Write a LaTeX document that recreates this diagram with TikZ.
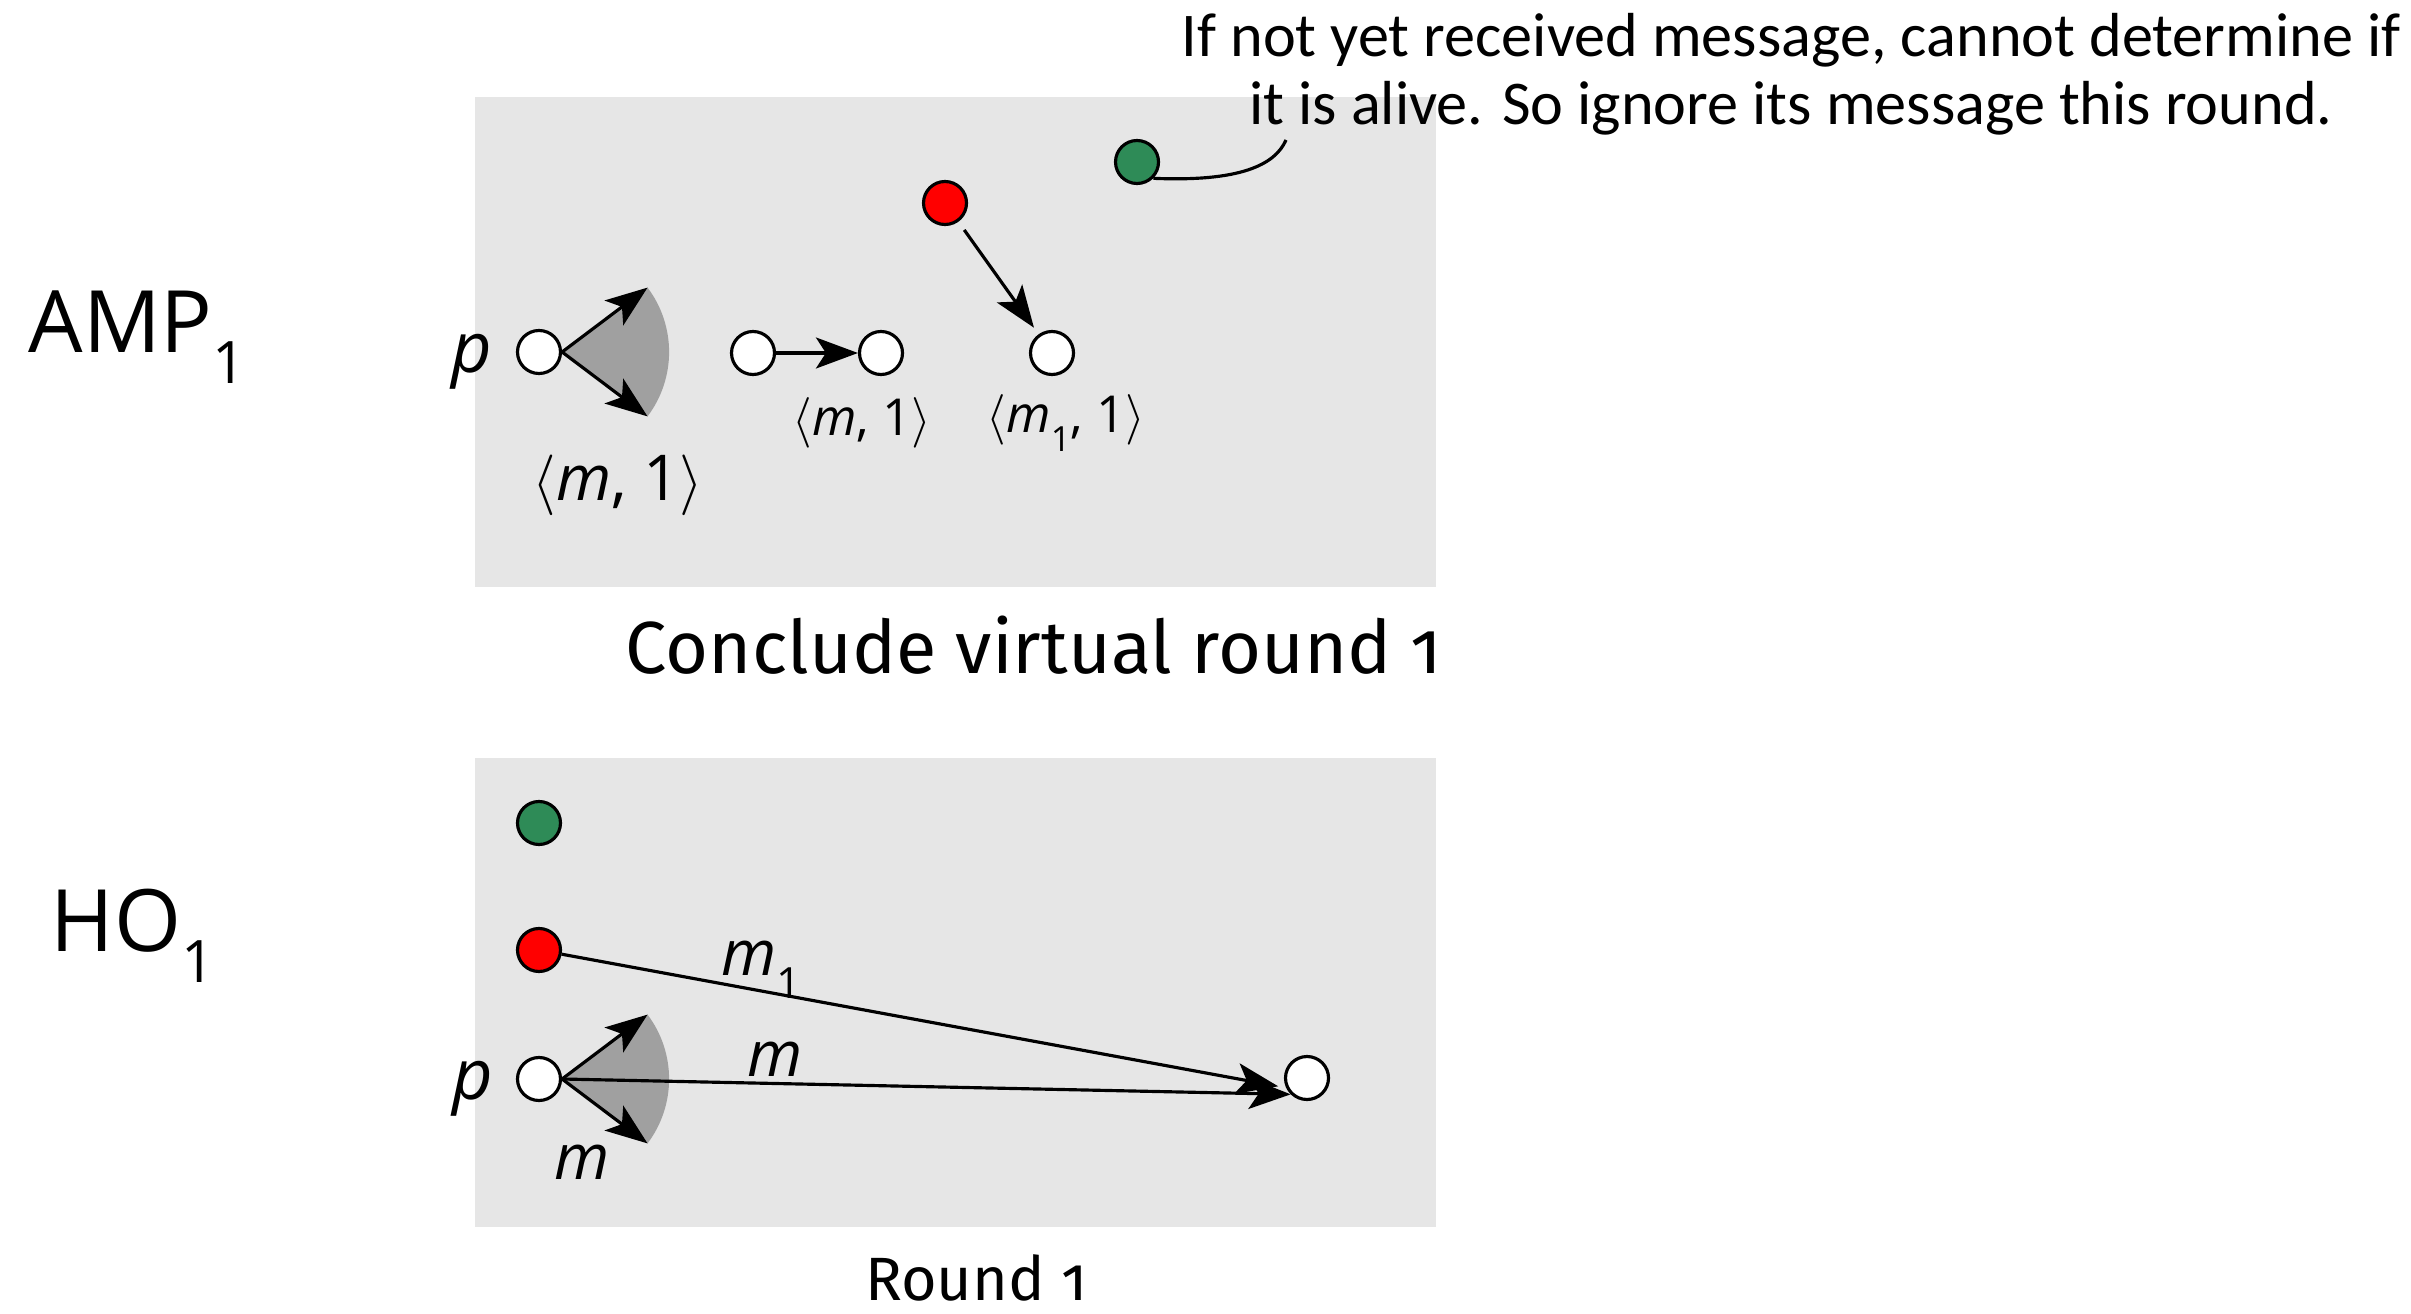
\documentclass[tikz,border=0pt]{standalone}
\usepackage{fontspec}
\usepackage{graphicx}
\setmainfont{Open Sans}
\newfontfamily\capfont[Numbers=OldStyle]{Fira Sans}
\newfontfamily\notefont{Carlito}
\usetikzlibrary{arrows.meta}
\definecolor{panel}{HTML}{E6E6E6}
\definecolor{fangray}{HTML}{A0A0A0}
\definecolor{alive}{HTML}{2E8B57}
\newcommand{\lowidx}[1]{\raisebox{-0.36em}{\scalebox{0.68}{#1}}}

\begin{document}
\begin{tikzpicture}[line width=0.9pt,
    >={Stealth[length=4.2mm, width=3.1mm, inset=1mm]},
    proc/.style={circle, draw, fill=white, minimum size=4.3mm, inner sep=0pt},
    lbl/.style={inner sep=0pt, font=\fontsize{18}{21}\selectfont},
    small/.style={inner sep=0pt, font=\fontsize{14.5}{17}\selectfont},
    fan/.style={fill=fangray}]
    \useasboundingbox (0,0) rectangle (24.11,-13.14);
    % Panels
    \fill[panel] (4.75,-0.97) rectangle (14.36,-5.87);
    \fill[panel] (4.75,-7.58) rectangle (14.36,-12.27);
    % Row labels and captions
    \node[anchor=base west, inner sep=0pt, font=\fontsize{24.5}{29}\selectfont] (amp) at (0.27,-3.53) {AMP\lowidx{1}};
    \node[anchor=base west, inner sep=0pt, font=\fontsize{24.5}{29}\selectfont] (ho) at (0.49,-9.51) {HO\lowidx{1}};
    \node[anchor=base, inner sep=0pt, font=\capfont\fontsize{21}{25}\selectfont] (cap1) at (10.34,-6.73) {Conclude virtual round 1};
    \node[anchor=base, inner sep=0pt, font=\capfont\fontsize{17.4}{21}\selectfont] (cap2) at (9.76,-13.00) {Round 1};
    \node[anchor=north, inner sep=0pt, align=center, font=\notefont\fontsize{17.7}{19.4}\selectfont] (note) at (17.91,-0.12)
        {If not yet received message, cannot determine if\\ it is alive. So ignore its message this round.};

    % AMP nodes
    \node[proc] (p) at (5.39,-3.52) {};
    \node[lbl, font=\fontsize{20}{24}\selectfont] (plbl) at (4.72,-3.62) {\textit{p}};
    \node[proc] (a) at (7.53,-3.53) {};
    \node[proc] (b) at (8.81,-3.53) {};
    \node[proc] (c) at (10.52,-3.53) {};
    \node[proc, fill=red] (r) at (9.45,-2.03) {};
    \node[proc, fill=alive] (g) at (11.37,-1.62) {};
    \node[lbl] (mbig) at (6.18,-4.85) {$\langle$\textit{m}, 1$\rangle$};
    \node[small] (mlbl) at (8.62,-4.23) {$\langle$\textit{m}, 1$\rangle$};
    \node[small] (m1lbl) at (10.66,-4.23) {$\bigl\langle$\textit{m}\lowidx{1}, 1$\bigr\rangle$};
    \coordinate (pu) at ([shift={(37:1.07)}]p.east);
    \coordinate (pd) at ([shift={(-37:1.07)}]p.east);
    \coordinate (callout) at (12.86,-1.40);
    % AMP edges
    \fill[fan] (p.east) -- (pu) arc[start angle=37, end angle=-37, radius=1.07] -- cycle;
    \draw[->] (p.east) -- (pu);
    \draw[->] (p.east) -- (pd);
    \draw[->] (a) -- (b);
    \draw[->, shorten <=1mm, shorten >=0.8mm] (r) -- (c);
    \draw (g.-45) .. controls (12.40,-1.82) and (12.75,-1.65) .. (callout);

    % HO nodes
    \node[proc, fill=alive] (g2) at (5.39,-8.23) {};
    \node[proc, fill=red] (r2) at (5.39,-9.50) {};
    \node[proc] (q) at (5.39,-10.79) {};
    \node[lbl, font=\fontsize{20}{24}\selectfont] (qlbl) at (4.73,-10.89) {\textit{p}};
    \node[proc] (t) at (13.07,-10.78) {};
    \node[lbl] (mq) at (5.82,-11.62) {\textit{m}};
    \node[lbl] (mt) at (7.75,-10.59) {\textit{m}};
    \node[lbl] (m1t) at (7.61,-9.70) {\textit{m}\lowidx{1}};
    \coordinate (qu) at ([shift={(37:1.07)}]q.east);
    \coordinate (qd) at ([shift={(-37:1.07)}]q.east);
    % HO edges
    \fill[fan] (q.east) -- (qu) arc[start angle=37, end angle=-37, radius=1.07] -- cycle;
    \draw[->] (q.east) -- (qu);
    \draw[->] (q.east) -- (qd);
    \draw[->, shorten >=0.8mm] (r2) -- (t.205);
    \draw[->] (q.east) -- (t.225);
\end{tikzpicture}
\end{document}
